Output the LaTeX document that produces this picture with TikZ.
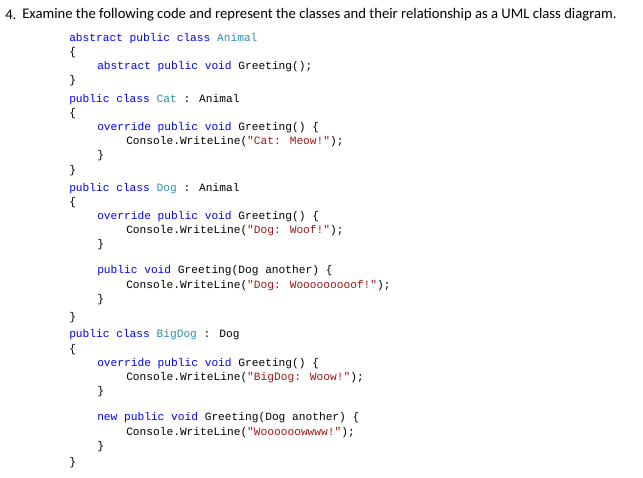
\documentclass[tikz,border=0pt]{standalone}
\usepackage{fontspec}
\setmainfont{Carlito}
\newfontfamily\codefont{Liberation Mono}
\definecolor{kwc}{RGB}{0,0,255}
\definecolor{tyc}{RGB}{43,145,175}
\definecolor{stc}{RGB}{163,21,21}
\newcommand{\kw}[1]{\textcolor{kwc}{#1}}
\newcommand{\ty}[1]{\textcolor{tyc}{#1}}
\newcommand{\st}[1]{\textcolor{stc}{#1}}
\begin{document}
\begin{tikzpicture}[x=0.75pt,y=-0.75pt,
  code/.style={anchor=west,inner sep=0pt,font=\codefont\fontsize{8.4}{10}\selectfont,text=black},
  head/.style={anchor=west,inner sep=0pt,font=\fontsize{11}{13}\selectfont}]
\useasboundingbox (0,0) rectangle (643,478);
\node[head] (h1) at (5,15) {4.};
\node[head] (h2) at (22,15) {Examine the following code and represent the classes and their relationship as a UML class diagram.};
\node[code] (l1) at (69,39) {\kw{abstract public class} \ty{Animal}};
\node[code] (l2) at (69,53) {\{};
\node[code] (l3) at (97,67) {\kw{abstract public void} Greeting();};
\node[code] (l4) at (69,81) {\}};
\node[code] (l5) at (69,100) {\kw{public class} \ty{Cat} : Animal};
\node[code] (l6) at (69,114) {\{};
\node[code] (l7) at (97,128) {\kw{override public void} Greeting() \{};
\node[code] (l8) at (126,142) {Console.WriteLine(\st{"Cat: Meow!"});};
\node[code] (l9) at (97,156) {\}};
\node[code] (l10) at (69,171) {\}};
\node[code] (l11) at (69,189) {\kw{public class} \ty{Dog} : Animal};
\node[code] (l12) at (69,203) {\{};
\node[code] (l13) at (97,217) {\kw{override public void} Greeting() \{};
\node[code] (l14) at (126,231) {Console.WriteLine(\st{"Dog: Woof!"});};
\node[code] (l15) at (97,245) {\}};
\node[code] (l16) at (97,271) {\kw{public void} Greeting(Dog another) \{};
\node[code] (l17) at (126,286) {Console.WriteLine(\st{"Dog: Wooooooooof!"});};
\node[code] (l18) at (97,300) {\}};
\node[code] (l19) at (69,318) {\}};
\node[code] (l20) at (69,335) {\kw{public class} \ty{BigDog} : Dog};
\node[code] (l21) at (69,350) {\{};
\node[code] (l22) at (97,364) {\kw{override public void} Greeting() \{};
\node[code] (l23) at (126,378) {Console.WriteLine(\st{"BigDog: Woow!"});};
\node[code] (l24) at (97,392) {\}};
\node[code] (l25) at (97,418) {\kw{new public void} Greeting(Dog another) \{};
\node[code] (l26) at (126,433) {Console.WriteLine(\st{"Woooooowwww!"});};
\node[code] (l27) at (97,447) {\}};
\node[code] (l28) at (69,463) {\}};
\end{tikzpicture}
\end{document}
